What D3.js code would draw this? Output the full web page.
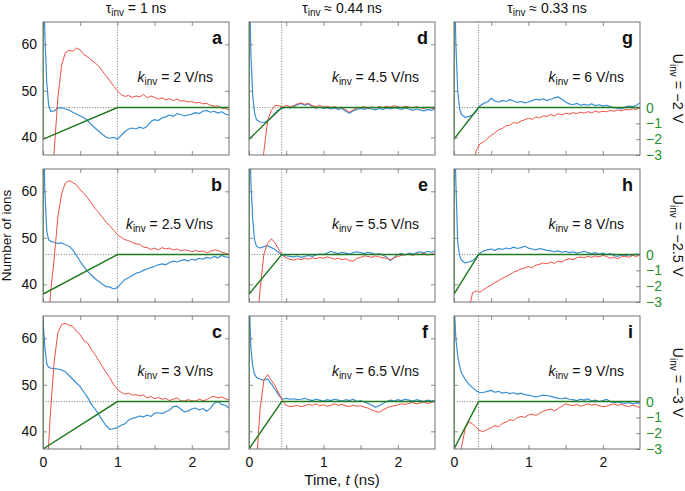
<!DOCTYPE html>
<html><head><meta charset="utf-8">
<script src="https://cdn.jsdelivr.net/npm/d3@7"></script>
<style>
body{margin:0;background:#fff;}
svg text{font-family:"Liberation Sans",Arial,Helvetica,sans-serif;}
</style>
</head><body>
<svg id="chart" width="685" height="491"></svg>
<script>
// ---------------- data ----------------
const times = [0,0.025,0.05,0.075,0.1,
0.15,0.2,0.25,0.3,0.35,
0.4,0.45,0.5,0.55,0.6,
0.65,0.7,0.75,0.8,0.85,
0.9,0.95,1.0,1.05,1.1,
1.15,1.2,1.25,1.3,1.35,
1.4,1.45,1.5,1.55,1.6,
1.65,1.7,1.75,1.8,1.85,
1.9,1.95,2.0,2.05,2.1,
2.15,2.2,2.25,2.3,2.35,
2.4,2.45,2.5];

const redA = [10,12,15,20,27, 37,48.5,55.5,58.2,58.7, 58.5,59.2,58.8,57.8,57.3, 56.6,56.0,55.3,54.2,53.2,
52.1,51.0,50.0,49.2,48.8, 49.0,48.6,48.9,48.7,49.2, 48.5,48.9,48.6,48.2,48.5, 48.1,48.3,47.9,48.2,47.8,
47.9,47.6,47.7,47.4,47.5, 47.2,47.3,46.9,46.7,46.8, 46.3,46.2,45.9];
const blueA = [80,62,52,47,45.6, 45.7,46.3,46.4,46.1,45.9, 45.4,45.0,44.6,44.2,43.6, 42.7,42.0,41.3,40.6,40.0,
39.8,40.0,39.6,40.4,41.2, 41.8,42.0,41.8,42.2,41.9, 42.4,43.4,43.8,43.6,44.2, 44.4,44.8,44.5,45.1,44.9,
44.6,44.8,45.0,45.3,45.1, 45.6,45.8,45.4,45.6,45.2, 45.5,45.0,44.8];

const redB = [10,14,22,31,38, 45.5,54.5,59.5,61.8,62.3, 61.9,61.4,60.3,59.6,58.6, 57.5,56.3,55.4,54.4,53.3,
52.6,51.6,50.7,50.1,49.6, 49.4,49.0,48.7,48.6,48.0, 47.9,47.5,47.8,47.4,47.9, 47.6,47.8,47.4,47.6,47.2,
47.4,47.3,47.0,47.3,47.0, 47.2,46.8,47.1,47.4,47.3, 46.9,46.7,46.4];
const blueB = [80,60,51.5,49.6,49.3, 49.0,48.8,48.9,48.5,48.2, 47.4,46.2,44.9,43.8,42.8, 42.0,41.2,40.6,40.0,39.5,
39.4,39.0,39.3,40.2,41.0, 41.4,41.9,42.4,42.6,43.0, 43.3,43.6,43.9,44.2,44.4, 44.2,44.7,45.0,44.8,45.1,
45.3,45.0,45.4,45.2,45.6, 45.4,45.8,45.6,46.0,45.7, 46.2,45.9,45.8];

const redC = [10,20,30,37,44, 55,61.2,63.0,63.2,62.8, 62.6,61.5,60.8,59.5,59.0, 57.6,56.5,55.2,53.9,52.6,
51.5,50.0,49.0,48.4,48.0, 48.2,47.8,47.9,47.6,47.8, 47.2,47.5,47.0,47.3,46.9, 47.1,46.6,46.9,47.2,46.6,
46.5,46.8,46.6,46.5,46.9, 46.6,46.8,47.3,47.5,47.2, 47.4,47.0,46.8];
const blueC = [64,58,54.5,53.8,53.6, 53.5,53.4,53.2,52.8,52.0, 51.2,50.4,49.6,48.4,47.3, 45.8,44.8,43.6,42.3,41.2,
40.4,40.6,40.8,41.3,41.6, 42.4,42.8,43.0,43.3,43.1, 43.5,43.2,43.9,44.0,43.8, 44.2,44.6,45.3,45.4,44.8,
44.2,44.4,44.8,45.0,44.6, 44.9,44.3,45.0,46.0,46.4, 45.8,45.6,45.0];

const redD = [5,8,12,17,22, 30,37,43.5,45.8,46.9, 46.8,46.5,46.9,46.6,46.8, 47.2,47.4,47.1,47.3,46.8,
46.6,46.9,46.5,46.7,46.4, 46.6,46.3,46.5,45.9,45.4, 45.9,46.3,46.4,46.6,46.2, 46.5,46.3,46.6,46.4,46.7,
46.5,46.8,46.6,46.4,46.7, 46.5,46.3,46.6,46.4,46.2, 46.5,46.3,46.2];
const blueD = [80,58,49,45.2,43.8, 43.3,43.2,43.6,44.3,45.2, 45.9,46.2,46.5,46.3,46.6, 47.0,47.3,46.9,47.2,46.6,
46.3,46.5,46.2,46.4,46.1, 46.3,46.0,46.2,45.6,45.2, 45.7,46.0,46.2,46.0,46.3, 46.1,45.9,46.2,46.0,46.3,
46.1,46.4,46.2,46.0,46.3, 46.1,45.8,46.1,45.9,45.7, 46.0,45.8,46.1];

const redE = [5,10,15,22,30, 39,46.5,48.8,49.8,48.9, 47.5,46.2,45.7,45.4,45.2, 45.5,45.3,45.6,45.4,45.7,
45.5,45.8,45.6,45.9,45.7, 45.4,45.6,45.3,45.5,45.1, 45.0,45.6,45.8,46.1,46.0, 45.8,46.1,45.9,45.7,45.6,
45.3,45.7,46.0,46.2,46.4, 46.5,46.2,46.6,46.4,46.7, 46.3,46.5,46.6];
const blueE = [80,62,54,49.5,48.2, 47.8,48.1,48.3,47.9,47.5, 46.8,46.3,46.1,46.0,45.9, 46.1,45.8,46.0,46.2,46.0,
46.3,46.5,46.4,46.7,47.1, 46.8,46.6,46.9,46.7,46.5, 46.8,47.0,46.8,46.6,46.9, 46.7,46.4,46.6,46.3,45.8,
45.1,45.8,46.4,46.6,46.3, 46.7,46.5,46.8,47.0,46.7, 47.1,46.9,47.2];

const redF = [5,8,14,22,33, 45,51.0,52.2,51.0,49.8, 48.2,46.6,45.6,45.3,45.4, 45.6,45.3,45.5,45.8,45.6,
45.9,45.5,45.7,45.4,45.6, 45.9,45.6,45.8,45.5,45.3, 45.6,45.4,45.5,45.2,45.0, 44.6,44.3,44.1,44.6,45.0,
45.3,45.5,45.7,45.9,45.8, 46.0,46.2,45.9,46.1,46.3, 46.0,46.2,46.5];
const blueF = [70,58,54,52.3,51.6, 51.2,51.0,51.3,50.2,49.0, 47.8,46.9,47.1,46.9,47.0, 46.8,46.9,47.1,46.8,46.6,
46.9,46.7,46.5,46.8,46.6, 46.9,46.7,46.5,46.8,46.6, 46.9,46.4,46.6,46.3,46.0, 45.6,45.2,45.5,46.0,46.4,
46.7,46.5,46.8,46.6,46.9, 46.7,46.5,46.8,46.6,46.4, 46.7,46.5,46.6];

const redG = [5,7,10,13,16, 22,28,34,37.2,38.6, 39.0,39.8,40.4,41.0,41.6, 41.9,42.5,42.6,43.2,43.0,
43.5,43.8,44.1,43.9,44.4, 44.2,44.6,44.5,44.9,44.6, 45.1,44.8,45.2,45.0,45.3, 45.1,45.4,45.2,45.5,45.3,
45.6,45.4,45.6,45.5,45.8, 45.6,45.9,45.7,46.0,45.9, 46.1,46.0,46.3];
const blueG = [80,60,50,46.2,44.9, 44.3,44.5,44.8,45.6,46.8, 47.3,47.6,48.4,47.8,47.6, 47.9,47.7,48.1,47.8,47.5,
47.7,47.4,47.6,47.9,48.2, 48.0,48.3,47.9,48.2,48.5, 48.7,48.2,47.6,47.2,47.0, 47.3,46.9,47.1,46.9,47.2,
46.8,47.0,46.7,46.9,46.6, 46.4,46.3,46.1,46.5,46.7, 46.6,46.9,47.4];

const redH = [5,8,12,16,21, 28,34.5,38.2,38.6,38.3, 38.9,39.4,39.8,40.4,40.8, 41.3,41.7,42.1,42.6,42.9,
43.3,43.5,43.8,43.6,44.1, 44.3,44.6,44.4,44.8,44.5, 45.0,44.8,45.3,45.5,45.3, 45.7,45.9,45.7,46.0,45.8,
46.1,45.9,46.2,46.0,45.6, 45.9,45.5,45.9,46.1,45.8, 46.2,46.0,46.3];
const blueH = [80,62,49,46.2,45.2, 44.6,44.8,45.1,45.8,46.7, 47.2,47.4,47.6,47.3,47.7, 47.5,47.8,47.6,48.0,47.7,
47.9,48.2,47.8,47.6,47.4, 47.7,47.5,47.3,47.2,47.0, 47.2,46.9,47.1,46.8,47.0, 46.7,46.9,47.1,46.8,46.6,
46.8,46.5,46.7,46.4,46.6, 46.2,46.0,46.3,46.1,46.4, 46.2,46.5,46.4];

const redI = [20,26,31,33,36.5, 40.6,42.0,41.6,40.8,40.1, 40.0,40.4,40.8,41.2,41.0, 41.7,42.0,42.5,42.3,42.9,
43.2,43.0,43.5,43.7,43.4, 43.9,44.3,44.6,44.8,44.4, 44.9,45.4,45.9,45.7,45.5, 45.8,45.4,45.6,45.9,45.6,
45.8,45.5,45.3,45.4,45.7, 45.9,45.6,45.8,45.5,45.3, 45.6,45.4,45.1];
const blueI = [68,60,56.2,54.0,52.6, 51.2,50.1,49.4,48.7,48.3, 48.4,48.6,48.8,48.4,48.6, 48.2,48.4,48.1,48.3,48.0,
48.2,47.9,47.8,47.6,47.4, 47.6,47.8,47.7,47.5,47.3, 47.1,47.0,47.2,46.9,46.8, 46.6,46.9,46.7,47.0,46.5,
46.7,46.4,46.6,46.9,46.4, 46.2,46.3,46.1,46.0,46.2, 45.9,46.1,46.0];

// rows = U_inv, columns = tau_inv
const redSeries  = [[redA, redD, redG], [redB, redE, redH], [redC, redF, redI]];
const blueSeries = [[blueA, blueD, blueG], [blueB, blueE, blueH], [blueC, blueF, blueI]];
const tauValues = [1, 0.44, 0.33];
const tauTitles = ["= 1 ns", "\u2248 0.44 ns", "\u2248 0.33 ns"];
const uValues = [-2, -2.5, -3];
const uTitles = ["= \u22122 V", "= \u22122.5 V", "= \u22123 V"];
const kTitles = [["2", "4.5", "6"], ["2.5", "5.5", "8"], ["3", "6.5", "9"]];
const panelLetters = [["a", "d", "g"], ["b", "e", "h"], ["c", "f", "i"]];
const preVoltage = 10;          // voltage before switching (off-scale)
const tEnd = 2.5;
const ionsDomain = [36.2, 64.8];
const zeroIons = 46.4;          // ions level matching 0 V
const ionsPerVolt = 3.4;
const yTickValues = [40, 50, 60];
const xTickValues = [0, 0.5, 1, 1.5, 2];
const vTickValues = [0, -1, -2, -3];

// ---------------- layout ----------------
const colX = [43, 249, 454];
const rowY = [22, 169, 316];
const pw = 186, ph = 133;
const RED = "#ee4f45", BLUE = "#3a8fd2", GREEN = "#1f7a1f", GREENTXT = "#2a8f2a";
const FRAME = "#707070";
const FS = 14;

const svg = d3.select("#chart");
const x = d3.scaleLinear().domain([0, tEnd]).range([0, pw]);
const y = d3.scaleLinear().domain(ionsDomain).range([ph, 0]);
const v = d3.scaleLinear().domain([-3, 0]).range([y(zeroIons - 3 * ionsPerVolt), y(zeroIons)]);

const line = d3.line().x(d => x(d[0])).y(d => y(d[1]));
const vline = d3.line().x(d => x(d[0])).y(d => v(d[1]));

function styleAxis(g) {
  g.select(".domain").remove();
  g.selectAll(".tick line").attr("stroke", FRAME).attr("stroke-width", 0.8);
  g.selectAll(".tick text").attr("font-size", FS).attr("fill", "#111")
   .attr("font-family", '"Liberation Sans",Arial,sans-serif');
}

for (let r = 0; r < 3; r++) {
  for (let c = 0; c < 3; c++) {
    const g = svg.append("g").attr("transform", `translate(${colX[c]},${rowY[r]})`);
    const cid = `clip${r}${c}`;
    g.append("clipPath").attr("id", cid).append("rect").attr("width", pw).attr("height", ph);
    const plot = g.append("g").attr("clip-path", `url(#${cid})`);
    const tau = tauValues[c], U = uValues[r];

    // dotted guides
    plot.append("line").attr("x1", x(tau)).attr("x2", x(tau)).attr("y1", 0).attr("y2", ph)
      .attr("stroke", "#555").attr("stroke-width", 0.8).attr("stroke-dasharray", "1,1.6");
    plot.append("line").attr("x1", 0).attr("x2", x(tau)).attr("y1", v(0)).attr("y2", v(0))
      .attr("stroke", "#555").attr("stroke-width", 0.8).attr("stroke-dasharray", "1,1.6");

    const blue = times.map((t, i) => [t, blueSeries[r][c][i]]);
    const red = times.map((t, i) => [t, redSeries[r][c][i]]);
    plot.append("path").attr("d", line(blue)).attr("fill", "none")
      .attr("stroke", BLUE).attr("stroke-width", 1.2).attr("stroke-linejoin", "round");
    plot.append("path").attr("d", line(red)).attr("fill", "none")
      .attr("stroke", RED).attr("stroke-width", 1.0).attr("stroke-linejoin", "round");

    const volt = [[0, preVoltage], [0, U], [tau, 0], [tEnd, 0]];
    plot.append("path").attr("d", vline(volt)).attr("fill", "none")
      .attr("stroke", GREEN).attr("stroke-width", 1.4);

    // ticks
    const bottom = g.append("g").attr("transform", `translate(0,${ph})`)
      .call(d3.axisBottom(x).tickValues(xTickValues).tickSizeInner(-4).tickSizeOuter(0).tickPadding(8)
        .tickFormat(d => (r === 2 && Number.isInteger(d)) ? d3.format("d")(d) : ""));
    styleAxis(bottom);
    const top = g.append("g")
      .call(d3.axisTop(x).tickValues(xTickValues).tickSizeInner(-4).tickSizeOuter(0).tickFormat(""));
    styleAxis(top);
    const left = g.append("g")
      .call(d3.axisLeft(y).tickValues(yTickValues).tickSizeInner(-4).tickSizeOuter(0).tickPadding(6)
        .tickFormat(d => c === 0 ? d : ""));
    styleAxis(left);
    if (c < 2) {
      const right = g.append("g").attr("transform", `translate(${pw},0)`)
        .call(d3.axisRight(y).tickValues(yTickValues).tickSizeInner(-4).tickSizeOuter(0).tickFormat(""));
      styleAxis(right);
    } else {
      const right = g.append("g").attr("transform", `translate(${pw},0)`)
        .call(d3.axisRight(v).tickValues(vTickValues).tickSizeInner(-4).tickSizeOuter(0).tickPadding(6)
          .tickFormat(d => d3.format("d")(d)));
      styleAxis(right);
      right.selectAll(".tick text").attr("fill", GREENTXT);
    }

    // frame
    g.append("rect").attr("width", pw).attr("height", ph).attr("fill", "none")
      .attr("stroke", FRAME).attr("stroke-width", 1);

    // panel letter
    g.append("text").attr("x", pw - 7).attr("y", 22).attr("text-anchor", "end")
      .attr("font-size", 18).attr("font-weight", "bold").attr("fill", "#111").text(panelLetters[r][c]);

    // k label
    const kt = g.append("text").attr("x", pw - 16).attr("y", 60).attr("text-anchor", "end")
      .attr("font-size", FS).attr("fill", "#111");
    kt.append("tspan").attr("font-style", "italic").text("k");
    kt.append("tspan").attr("font-size", 10).attr("dy", 3).text("inv");
    kt.append("tspan").attr("dy", -3).text(` = ${kTitles[r][c]} V/ns`);
  }
}

// column titles
for (let c = 0; c < 3; c++) {
  const t = svg.append("text").attr("x", colX[c] + pw / 2).attr("y", 13).attr("text-anchor", "middle")
    .attr("font-size", FS).attr("fill", "#111");
  t.append("tspan").text("\u03c4");
  t.append("tspan").attr("font-size", 10).attr("dy", 3).text("inv");
  t.append("tspan").attr("dy", -3).text(" " + tauTitles[c]);
}

// row titles (right)
for (let r = 0; r < 3; r++) {
  const cy = rowY[r] + ph / 2;
  const t = svg.append("text").attr("transform", `translate(673,${cy}) rotate(90)`)
    .attr("text-anchor", "middle").attr("font-size", 14.5).attr("fill", "#111");
  t.append("tspan").text("U");
  t.append("tspan").attr("font-size", 10).attr("dy", 3).text("inv");
  t.append("tspan").attr("dy", -3).text(" " + uTitles[r]);
}

// axis titles
svg.append("text").attr("transform", `translate(11,${(rowY[0] + rowY[2] + ph) / 2}) rotate(-90)`)
  .attr("text-anchor", "middle").attr("font-size", 13.5).attr("fill", "#111").text("Number of ions");
const xt = svg.append("text").attr("x", colX[1] + pw / 2).attr("y", 485).attr("text-anchor", "middle")
  .attr("font-size", 15).attr("fill", "#111");
xt.append("tspan").text("Time, ");
xt.append("tspan").attr("font-style", "italic").text("t");
xt.append("tspan").text(" (ns)");
</script>
</body></html>
